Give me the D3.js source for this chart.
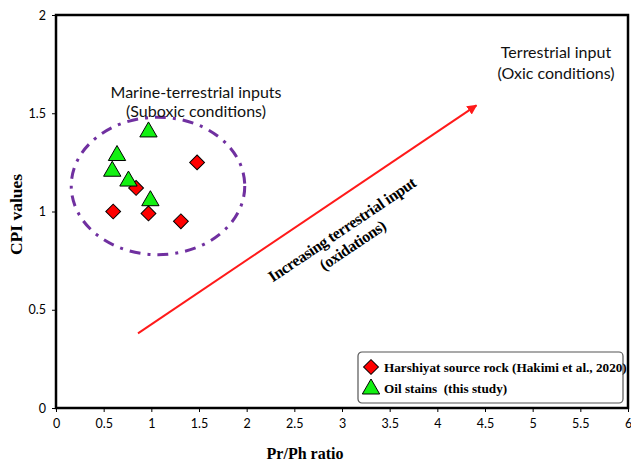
<!DOCTYPE html>
<html>
<head>
<meta charset="utf-8">
<script src="https://cdn.jsdelivr.net/npm/d3@7"></script>
<style>
  body { margin: 0; background: #fff; }
  #chart { width: 631px; height: 461px; }
  .tick text { font-family: Lato, "Open Sans", sans-serif; font-size: 12.5px; fill: #000; }
</style>
</head>
<body>
<div id="chart"></div>
<script>
// Harshiyat source rock (Hakimi et al., 2020)
var rockPrPh = [0.60, 0.97, 0.84, 1.48, 1.31];
var rockCPI  = [1.00, 0.99, 1.12, 1.25, 0.95];

// Oil stains (this study)
var oilPrPh = [0.97, 0.64, 0.59, 0.76, 0.99];
var oilCPI  = [1.41, 1.29, 1.21, 1.16, 1.06];

var xTicks = [0, 0.5, 1, 1.5, 2, 2.5, 3, 3.5, 4, 4.5, 5, 5.5, 6];
var yTicks = [0, 0.5, 1, 1.5, 2];

// field ellipse (centre, radii) and trend arrow in data units
var ellipse = {cx: 1.07, cy: 1.13, rx: 0.91, ry: 0.35};
var arrowFrom = [0.86, 0.38], arrowTo = [4.41, 1.54];

var margin = {top: 15, right: 3, bottom: 53, left: 56},
    width = 631 - margin.left - margin.right,
    height = 461 - margin.top - margin.bottom;

var x = d3.scaleLinear().domain([0, 6]).range([0, width]);
var y = d3.scaleLinear().domain([0, 2]).range([height, 0]);

var svg = d3.select("#chart").append("svg")
    .attr("width", 631)
    .attr("height", 461)
  .append("g")
    .attr("transform", "translate(" + margin.left + "," + margin.top + ")");

svg.append("defs").append("marker")
    .attr("id", "head")
    .attr("viewBox", "0 0 10 10")
    .attr("refX", 9).attr("refY", 5)
    .attr("markerWidth", 5).attr("markerHeight", 5)
    .attr("orient", "auto")
  .append("path")
    .attr("d", "M0,0L10,5L0,10z")
    .attr("fill", "#ff1a1a");

// axes
var xAxis = svg.append("g")
    .attr("transform", "translate(0," + height + ")")
    .call(d3.axisBottom(x).tickValues(xTicks).tickSize(4).tickPadding(7)
        .tickFormat(d3.format("")));
xAxis.select(".domain").remove();

var yAxis = svg.append("g")
    .call(d3.axisLeft(y).tickValues(yTicks).tickSize(4).tickPadding(6)
        .tickFormat(d3.format("")));
yAxis.select(".domain").remove();

// frame
svg.append("rect")
    .attr("width", width)
    .attr("height", height)
    .attr("fill", "none")
    .attr("stroke", "#000")
    .attr("stroke-width", 2.5);

// dash-dot ellipse
svg.append("ellipse")
    .attr("cx", x(ellipse.cx))
    .attr("cy", y(ellipse.cy))
    .attr("rx", x(ellipse.rx) - x(0))
    .attr("ry", y(0) - y(ellipse.ry))
    .attr("fill", "none")
    .attr("stroke", "#7030a0")
    .attr("stroke-width", 3)
    .attr("stroke-dasharray", "11,7,3,7");

// trend arrow
svg.append("line")
    .attr("x1", x(arrowFrom[0])).attr("y1", y(arrowFrom[1]))
    .attr("x2", x(arrowTo[0])).attr("y2", y(arrowTo[1]))
    .attr("stroke", "#ff1a1a")
    .attr("stroke-width", 2)
    .attr("marker-end", "url(#head)");

// points
var diamond = d3.symbol().type(d3.symbolSquare).size(110);
var triangle = d3.symbol().type(d3.symbolTriangle).size(130);

svg.selectAll(".rock")
    .data(rockPrPh)
    .enter().append("path")
    .attr("class", "rock")
    .attr("d", diamond)
    .attr("transform", function(d, i) {
        return "translate(" + x(d) + "," + y(rockCPI[i]) + ") rotate(45)";
    })
    .attr("fill", "#ff0000")
    .attr("stroke", "#000")
    .attr("stroke-width", 1);

svg.selectAll(".oil")
    .data(oilPrPh)
    .enter().append("path")
    .attr("class", "oil")
    .attr("d", triangle)
    .attr("transform", function(d, i) {
        return "translate(" + x(d) + "," + (y(oilCPI[i]) + 1) + ")";
    })
    .attr("fill", "#12f012")
    .attr("stroke", "#000")
    .attr("stroke-width", 1);

// annotations
var sans = "Lato, 'Open Sans', sans-serif";
var serif = "'Liberation Serif', 'DejaVu Serif', serif";

function label(lines, cx, cy, gap) {
    var t = svg.append("text")
        .attr("text-anchor", "middle")
        .attr("font-family", sans)
        .attr("font-size", 16)
        .attr("fill", "#111");
    lines.forEach(function(s, i) {
        t.append("tspan").attr("x", cx).attr("y", cy + i * gap).text(s);
    });
}
label(["Marine-terrestrial inputs", "(Suboxic conditions)"], 140, 83, 19);
label(["Terrestrial input", "(Oxic conditions)"], 500, 43, 20.5);

var ang = Math.atan2(y(arrowTo[1]) - y(arrowFrom[1]), x(arrowTo[0]) - x(arrowFrom[0])) * 180 / Math.PI;
var rot = svg.append("text")
    .attr("transform", "translate(289,219) rotate(" + ang + ")")
    .attr("text-anchor", "middle")
    .attr("font-family", serif)
    .attr("font-weight", "bold")
    .attr("font-size", 16)
    .attr("letter-spacing", -0.4)
    .attr("fill", "#000");
rot.append("tspan").attr("x", 0).attr("y", 0).text("Increasing terrestrial input");
rot.append("tspan").attr("x", 0).attr("y", 19).text("(oxidations)");

// axis titles
svg.append("text")
    .attr("x", width / 2 - 37)
    .attr("y", height + 51)
    .attr("text-anchor", "middle")
    .attr("font-family", serif)
    .attr("font-weight", "bold")
    .attr("font-size", 16)
    .text("Pr/Ph ratio");

svg.append("text")
    .attr("transform", "translate(-34," + (height / 2 + 3) + ") rotate(-90)")
    .attr("text-anchor", "middle")
    .attr("font-family", serif)
    .attr("font-weight", "bold")
    .attr("font-size", 17.5)
    .text("CPI values");

// legend
var legendNames = ["Harshiyat source rock (Hakimi et al., 2020)", "Oil stains  (this study)"];
var lg = svg.append("g").attr("transform", "translate(302,337)");
lg.append("rect")
    .attr("width", 265)
    .attr("height", 51)
    .attr("rx", 4)
    .attr("fill", "#fff")
    .attr("stroke", "#555")
    .attr("stroke-width", 1.2);
lg.append("path")
    .attr("d", diamond)
    .attr("transform", "translate(13,15) rotate(45)")
    .attr("fill", "#ff0000")
    .attr("stroke", "#000");
lg.append("path")
    .attr("d", triangle)
    .attr("transform", "translate(13,37)")
    .attr("fill", "#12f012")
    .attr("stroke", "#000");
lg.selectAll(".lt")
    .data(legendNames)
    .enter().append("text")
    .attr("class", "lt")
    .attr("x", 26)
    .attr("y", function(d, i) { return 20 + i * 21; })
    .attr("font-family", serif)
    .attr("font-weight", "bold")
    .attr("font-size", 13.2)
    .attr("xml:space", "preserve")
    .style("white-space", "pre")
    .text(function(d) { return d; });
</script>
</body>
</html>
